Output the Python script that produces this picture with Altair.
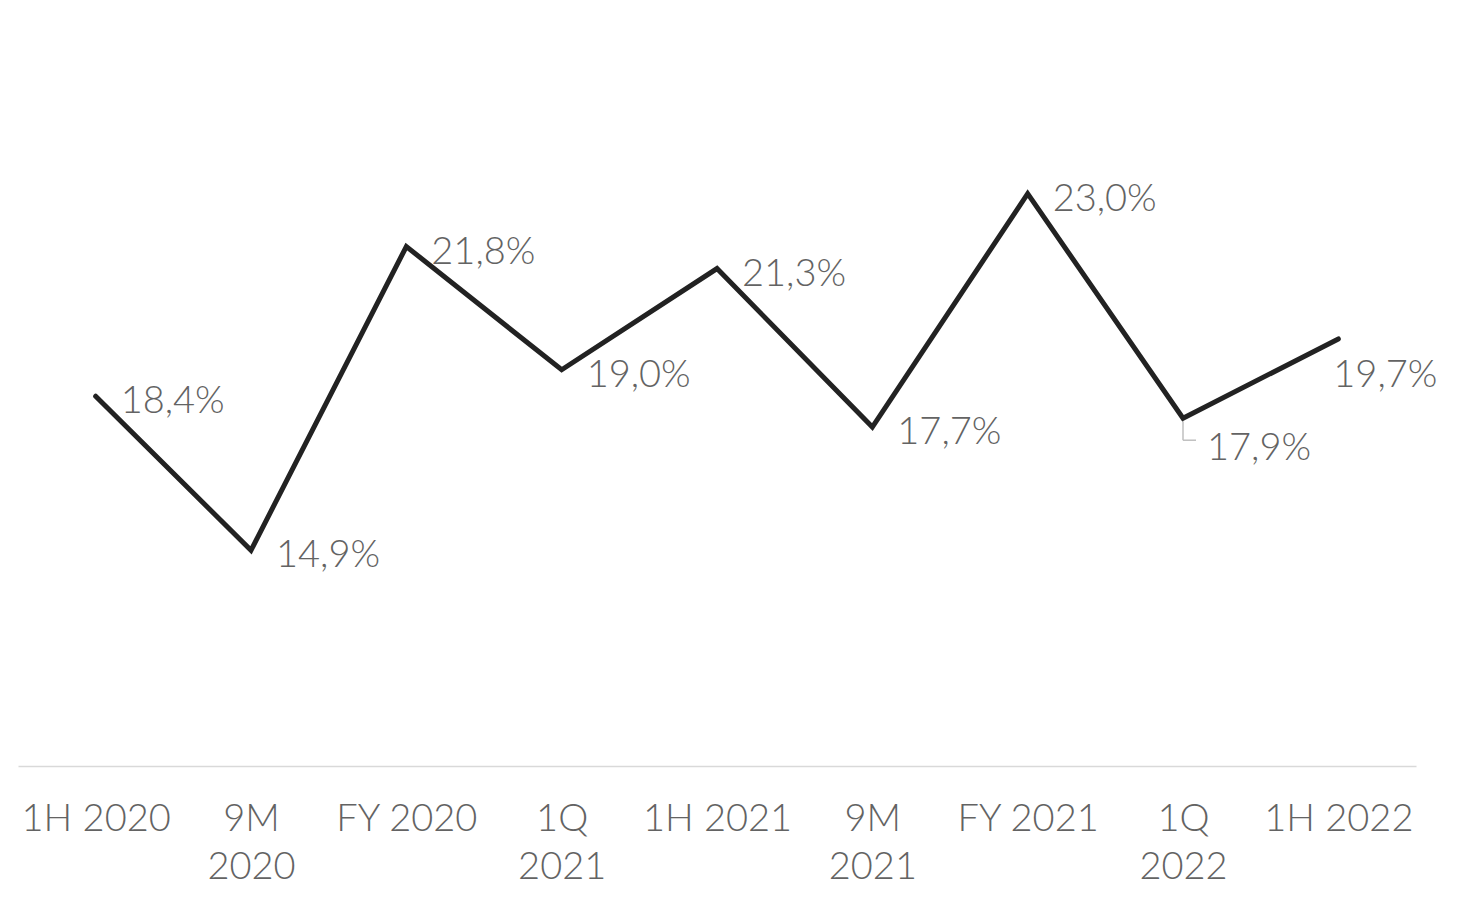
import altair as alt
import pandas as pd

periods = ["1H 2020", "9M 2020", "FY 2020", "1Q 2021", "1H 2021",
           "9M 2021", "FY 2021", "1Q 2022", "1H 2022"]
values = [18.4, 14.9, 21.8, 19.0, 21.3, 17.7, 23.0, 17.9, 19.7]

df = pd.DataFrame({"period": periods, "value": values})

FONT = "Lato"
GRAY = "#636363"

x = alt.X("period:N", sort=periods,
          scale=alt.Scale(type="point", padding=0.5),
          axis=alt.Axis(title=None, labelAngle=0, ticks=False,
                        domainColor="#d9d9d9", domainWidth=1.5,
                        labelFontSize=38, labelFont=FONT, labelFontWeight=300,
                        labelColor=GRAY, labelPadding=34, labelLineHeight=48,
                        labelExpr="indexof(['9M','1Q'], substring(datum.label,0,2)) >= 0 ? split(datum.label,' ') : datum.label"))
y = alt.Y("value:Q", scale=alt.Scale(domain=[10, 27.4], nice=False, zero=False),
          axis=None)

base = alt.Chart(df).encode(x=x, y=y)

line = base.mark_line(color="#222222", strokeWidth=5, strokeCap="round", strokeJoin="miter")

lbl = base.transform_calculate(
    lab="replace(format(datum.value, '.1f'), '.', ',') + '%'"
)

txt_common = dict(align="left", baseline="middle", fontSize=38, font=FONT,
                  fontWeight=300, color=GRAY)

txt_main = lbl.transform_filter(
    "datum.period != '1Q 2022' && datum.period != '1H 2022'"
).mark_text(dx=25, dy=6, **txt_common).encode(text="lab:N")

txt_179 = lbl.transform_filter("datum.period == '1Q 2022'").mark_text(
    dx=24, dy=31, **txt_common).encode(text="lab:N")

txt_197 = lbl.transform_filter("datum.period == '1H 2022'").mark_text(
    dx=-5, dy=37, **txt_common).encode(text="lab:N")

lead_base = alt.Chart(df).transform_filter("datum.period == '1Q 2022'")
lead_v = lead_base.mark_rule(color="#bfbfbf", strokeWidth=1.5, yOffset=3, y2Offset=22).encode(
    x=x, y=y, y2="value:Q")
lead_h = lead_base.mark_rule(color="#bfbfbf", strokeWidth=1.5, yOffset=22, x2Offset=13).encode(
    x=x, x2="period:N", y=y)

chart = alt.layer(lead_v, lead_h, line, txt_main, txt_179, txt_197).properties(
    width=1398, height=766,
    padding={"left": 18, "top": 0, "right": 0, "bottom": 0},
    background="white",
).configure_view(stroke=None)

chart.save("out.html", embed_options={"renderer": "svg", "actions": False})
